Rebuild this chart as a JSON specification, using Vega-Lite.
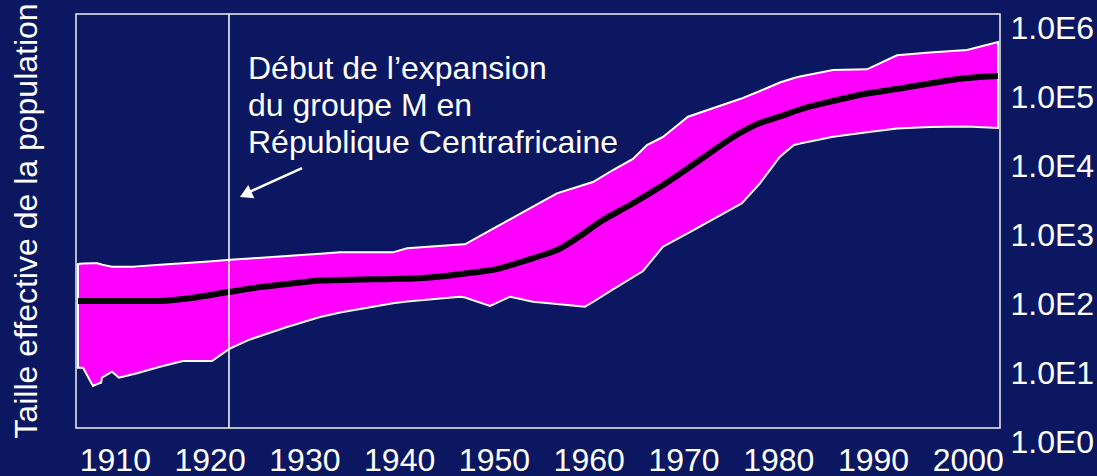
{
  "$schema": "https://vega.github.io/schema/vega-lite/v6.json",
  "width": 924,
  "height": 414,
  "autosize": {"type": "none"},
  "padding": {"left": 76, "top": 14, "right": 97, "bottom": 48},
  "background": "#0c1762",
  "title": {
    "text": "Taille effective de la population",
    "orient": "left",
    "anchor": "middle",
    "frame": "group",
    "offset": 22,
    "font": "Liberation Sans",
    "fontSize": 32,
    "fontWeight": "normal",
    "color": "#ffffff"
  },
  "config": {
    "view": {"stroke": "#f0f0f0", "strokeWidth": 1.5},
    "axis": {"labelFont": "Liberation Sans", "labelFontSize": 32, "labelColor": "#ffffff", "grid": false, "domain": false, "ticks": false, "tickSize": 0}
  },
  "datasets": {
    "band": [
      {"year": 1906.11, "upper": 238, "lower": 7.48},
      {"year": 1906.64, "upper": 242, "lower": 7.48},
      {"year": 1907.69, "upper": 244, "lower": 4.06},
      {"year": 1908.12, "upper": 244, "lower": 4.34},
      {"year": 1908.54, "upper": 236, "lower": 4.54},
      {"year": 1908.64, "upper": 233, "lower": 5.36},
      {"year": 1909.70, "upper": 218, "lower": 6.55},
      {"year": 1910.44, "upper": 218, "lower": 5.36},
      {"year": 1911.91, "upper": 218, "lower": 6.02},
      {"year": 1912.34, "upper": 220, "lower": 6.21},
      {"year": 1914.76, "upper": 232, "lower": 7.73},
      {"year": 1917.19, "upper": 245, "lower": 9.35},
      {"year": 1920.25, "upper": 262, "lower": 9.35},
      {"year": 1922.15, "upper": 274, "lower": 14.2},
      {"year": 1924.26, "upper": 287, "lower": 19.2},
      {"year": 1928.16, "upper": 312, "lower": 29.1},
      {"year": 1931.65, "upper": 336, "lower": 40.6},
      {"year": 1933.76, "upper": 351, "lower": 47.2},
      {"year": 1939.35, "upper": 351, "lower": 64.1},
      {"year": 1940.83, "upper": 402, "lower": 68.1},
      {"year": 1946.42, "upper": 455, "lower": 80},
      {"year": 1946.95, "upper": 459, "lower": 77.8},
      {"year": 1949.59, "upper": 731, "lower": 58.6},
      {"year": 1951.70, "upper": 1054, "lower": 80},
      {"year": 1954.12, "upper": 1618, "lower": 67.6},
      {"year": 1956.65, "upper": 2518, "lower": 62.7},
      {"year": 1959.61, "upper": 3380, "lower": 57.3},
      {"year": 1960.45, "upper": 3673, "lower": 67},
      {"year": 1962.56, "upper": 5483, "lower": 102},
      {"year": 1964.67, "upper": 7925, "lower": 153},
      {"year": 1965.73, "upper": 11050, "lower": 188},
      {"year": 1966.15, "upper": 12620, "lower": 222},
      {"year": 1967.52, "upper": 15700, "lower": 376},
      {"year": 1967.84, "upper": 16500, "lower": 424},
      {"year": 1970.48, "upper": 32500, "lower": 670},
      {"year": 1975.96, "upper": 58600, "lower": 1740},
      {"year": 1976.17, "upper": 59800, "lower": 1806},
      {"year": 1978.07, "upper": 76600, "lower": 3516},
      {"year": 1980.18, "upper": 101600, "lower": 8550},
      {"year": 1981.66, "upper": 118100, "lower": 12620},
      {"year": 1982.30, "upper": 124200, "lower": 13280},
      {"year": 1985.78, "upper": 154000, "lower": 16670},
      {"year": 1989.37, "upper": 158000, "lower": 19360},
      {"year": 1992.53, "upper": 252000, "lower": 21830},
      {"year": 1996.0, "upper": 277000, "lower": 23030},
      {"year": 1999.92, "upper": 301000, "lower": 23440},
      {"year": 2003.19, "upper": 393000, "lower": 22280}
    ],
    "median": [
      {"year": 1906.11, "upper": 69.3},
      {"year": 1910.54, "upper": 69.3},
      {"year": 1914.76, "upper": 69.3},
      {"year": 1918.25, "upper": 77.3},
      {"year": 1921.83, "upper": 92.6},
      {"year": 1925.32, "upper": 110},
      {"year": 1928.80, "upper": 125},
      {"year": 1931.65, "upper": 137},
      {"year": 1935.87, "upper": 142},
      {"year": 1939.35, "upper": 144},
      {"year": 1943.25, "upper": 152},
      {"year": 1947.16, "upper": 175},
      {"year": 1950.64, "upper": 206},
      {"year": 1952.43, "upper": 244},
      {"year": 1954.86, "upper": 311},
      {"year": 1956.65, "upper": 380},
      {"year": 1959.08, "upper": 606},
      {"year": 1961.19, "upper": 968},
      {"year": 1964.36, "upper": 1706},
      {"year": 1967.52, "upper": 3110},
      {"year": 1971.74, "upper": 7660},
      {"year": 1975.96, "upper": 18850},
      {"year": 1978.07, "upper": 26300},
      {"year": 1980.18, "upper": 32700},
      {"year": 1982.30, "upper": 41300},
      {"year": 1985.78, "upper": 54800},
      {"year": 1989.37, "upper": 70400},
      {"year": 1992.85, "upper": 83200},
      {"year": 1996.0, "upper": 98400},
      {"year": 1999.7, "upper": 117000},
      {"year": 2003.19, "upper": 126000}
    ],
    "marker": [{"year": 1922.04}],
    "note": [{"year": 1924.05, "upper": 114000, "label": "Début de l’expansion\ndu groupe M en\nRépublique Centrafricaine"}],
    "arrow": [{"year": 1929.75, "upper": 5860, "x2": 1924.0, "y2": 2560}],
    "head": [{"year": 1923.8, "upper": 2440}]
  },
  "layer": [
    {
      "data": {"name": "band"},
      "mark": {"type": "area", "color": "#ff00ff", "fill": "#ff00ff", "fillOpacity": 1, "stroke": "#ffffff", "strokeWidth": 2, "interpolate": "linear"},
      "encoding": {
        "x": {"field": "year", "type": "quantitative", "scale": {"domain": [1905.9, 2003.4], "nice": false, "zero": false},
              "axis": {"title": null, "values": [1910, 1920, 1930, 1940, 1950, 1960, 1970, 1980, 1990, 2000], "format": "d", "labelPadding": 17, "labelFlush": false, "labelOverlap": false}},
        "y": {"field": "upper", "type": "quantitative", "scale": {"type": "log", "domain": [1, 1000000], "nice": false},
              "axis": {"title": null, "orient": "right", "values": [1, 10, 100, 1000, 10000, 100000, 1000000], "labelExpr": "'1.0E' + round(log(datum.value) / LN10)", "labelPadding": 10, "labelOffset": 14, "labelAlign": "left", "labelFlush": false, "labelOverlap": false}},
        "y2": {"field": "lower"}
      }
    },
    {
      "data": {"name": "median"},
      "mark": {"type": "line", "color": "#000000", "strokeWidth": 6, "interpolate": "monotone"},
      "encoding": {
        "x": {"field": "year", "type": "quantitative", "scale": {"domain": [1905.9, 2003.4], "nice": false, "zero": false},
              "axis": {"title": null, "values": [1910, 1920, 1930, 1940, 1950, 1960, 1970, 1980, 1990, 2000], "format": "d", "labelPadding": 17, "labelFlush": false, "labelOverlap": false}},
        "y": {"field": "upper", "type": "quantitative", "scale": {"type": "log", "domain": [1, 1000000], "nice": false},
              "axis": {"title": null, "orient": "right", "values": [1, 10, 100, 1000, 10000, 100000, 1000000], "labelExpr": "'1.0E' + round(log(datum.value) / LN10)", "labelPadding": 10, "labelOffset": 14, "labelAlign": "left", "labelFlush": false, "labelOverlap": false}}
      }
    },
    {
      "data": {"name": "marker"},
      "mark": {"type": "rule", "color": "#ffffff", "strokeWidth": 1.5},
      "encoding": {
        "x": {"field": "year", "type": "quantitative", "scale": {"domain": [1905.9, 2003.4], "nice": false, "zero": false},
              "axis": {"title": null, "values": [1910, 1920, 1930, 1940, 1950, 1960, 1970, 1980, 1990, 2000], "format": "d", "labelPadding": 17, "labelFlush": false, "labelOverlap": false}}
      }
    },
    {
      "data": {"name": "note"},
      "mark": {"type": "text", "align": "left", "baseline": "alphabetic", "lineBreak": "\n", "lineHeight": 37, "font": "Liberation Sans", "fontSize": 32, "color": "#ffffff"},
      "encoding": {
        "x": {"field": "year", "type": "quantitative", "scale": {"domain": [1905.9, 2003.4], "nice": false, "zero": false},
              "axis": {"title": null, "values": [1910, 1920, 1930, 1940, 1950, 1960, 1970, 1980, 1990, 2000], "format": "d", "labelPadding": 17, "labelFlush": false, "labelOverlap": false}},
        "y": {"field": "upper", "type": "quantitative", "scale": {"type": "log", "domain": [1, 1000000], "nice": false},
              "axis": {"title": null, "orient": "right", "values": [1, 10, 100, 1000, 10000, 100000, 1000000], "labelExpr": "'1.0E' + round(log(datum.value) / LN10)", "labelPadding": 10, "labelOffset": 14, "labelAlign": "left", "labelFlush": false, "labelOverlap": false}},
        "text": {"field": "label"}
      }
    },
    {
      "data": {"name": "arrow"},
      "mark": {"type": "rule", "color": "#ffffff", "strokeWidth": 2.5},
      "encoding": {
        "x": {"field": "year", "type": "quantitative", "scale": {"domain": [1905.9, 2003.4], "nice": false, "zero": false},
              "axis": {"title": null, "values": [1910, 1920, 1930, 1940, 1950, 1960, 1970, 1980, 1990, 2000], "format": "d", "labelPadding": 17, "labelFlush": false, "labelOverlap": false}},
        "y": {"field": "upper", "type": "quantitative", "scale": {"type": "log", "domain": [1, 1000000], "nice": false},
              "axis": {"title": null, "orient": "right", "values": [1, 10, 100, 1000, 10000, 100000, 1000000], "labelExpr": "'1.0E' + round(log(datum.value) / LN10)", "labelPadding": 10, "labelOffset": 14, "labelAlign": "left", "labelFlush": false, "labelOverlap": false}},
        "x2": {"field": "x2"},
        "y2": {"field": "y2"}
      }
    },
    {
      "data": {"name": "head"},
      "mark": {"type": "point", "shape": "triangle-up", "filled": true, "color": "#ffffff", "opacity": 1, "size": 210, "angle": 245},
      "encoding": {
        "x": {"field": "year", "type": "quantitative", "scale": {"domain": [1905.9, 2003.4], "nice": false, "zero": false},
              "axis": {"title": null, "values": [1910, 1920, 1930, 1940, 1950, 1960, 1970, 1980, 1990, 2000], "format": "d", "labelPadding": 17, "labelFlush": false, "labelOverlap": false}},
        "y": {"field": "upper", "type": "quantitative", "scale": {"type": "log", "domain": [1, 1000000], "nice": false},
              "axis": {"title": null, "orient": "right", "values": [1, 10, 100, 1000, 10000, 100000, 1000000], "labelExpr": "'1.0E' + round(log(datum.value) / LN10)", "labelPadding": 10, "labelOffset": 14, "labelAlign": "left", "labelFlush": false, "labelOverlap": false}}
      }
    }
  ]
}
